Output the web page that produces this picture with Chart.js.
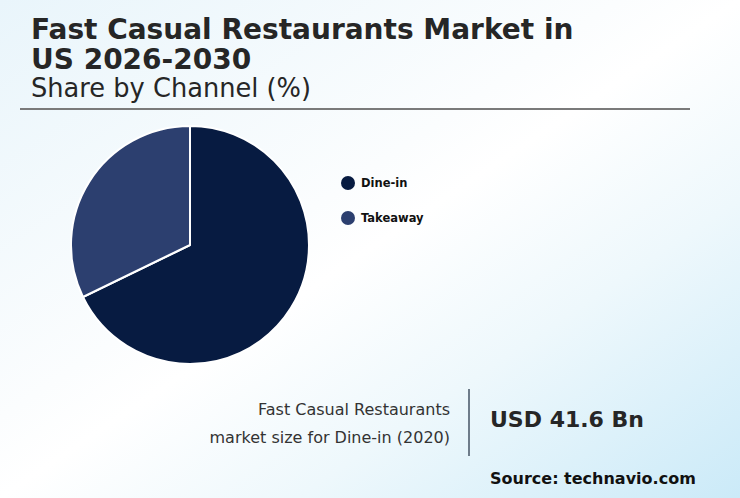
<!DOCTYPE html>
<html><head><meta charset="utf-8">
<script src="https://cdn.jsdelivr.net/npm/chart.js@4"></script>
<style>
html,body{margin:0;padding:0;}
body{width:740px;height:498px;overflow:hidden;position:relative;font-family:"DejaVu Sans",sans-serif;
background:linear-gradient(to bottom right,#e9f5fb 0%,#fbfdfe 42%,#ffffff 50%,#eef8fc 70%,#cbeaf8 100%);}
.abs{position:absolute;white-space:nowrap;}
#title{left:31px;top:15px;font-size:28px;line-height:30px;font-weight:bold;color:#262626;}
#sub{left:31px;top:73px;font-size:25.7px;line-height:30px;color:#262626;}
#rule{left:20px;top:108px;width:670px;height:2px;background:#7a7a7a;}
#pie{left:70px;top:125px;width:240px;height:240px;}
#legend{left:341px;top:174px;}
.li{display:flex;align-items:center;height:18px;margin-bottom:17px;font-size:11.5px;font-weight:bold;color:#111;}
.dot{width:14px;height:14px;border-radius:50%;margin-right:6px;}
#desc{right:290px;top:396px;font-size:16px;line-height:28px;color:#333;text-align:right;}
#vline{left:468px;top:389px;width:2px;height:67px;background:#6e7c8a;}
#val{left:490px;top:406px;font-size:22px;line-height:28px;font-weight:bold;color:#262626;}
#src{left:490px;top:468px;font-size:16px;line-height:22px;font-weight:bold;color:#111;}
</style></head>
<body>
<div id="title" class="abs">Fast Casual Restaurants Market in<br>US 2026-2030</div>
<div id="sub" class="abs">Share by Channel (%)</div>
<div id="rule" class="abs"></div>
<div id="pie" class="abs"><canvas id="c" width="240" height="240"></canvas></div>
<div id="legend" class="abs"></div>
<div id="desc" class="abs">Fast Casual Restaurants<br>market size for Dine-in (2020)</div>
<div id="vline" class="abs"></div>
<div id="val" class="abs">USD 41.6 Bn</div>
<div id="src" class="abs">Source: technavio.com</div>
<script>
const categories = ["Dine-in", "Takeaway"];
const shares = [67.8, 32.2];
const colors = ["#071b41", "#2c3f6f"];

const lg = document.getElementById('legend');
categories.forEach((c,i)=>{
  const d=document.createElement('div');d.className='li';
  d.innerHTML='<span class="dot" style="background:'+colors[i]+'"></span>'+c;
  lg.appendChild(d);
});

new Chart(document.getElementById('c'), {
  type: 'pie',
  data: { labels: categories, datasets: [{ data: shares, backgroundColor: colors, borderColor: '#ffffff', borderWidth: 2 }] },
  options: {
    responsive: false, animation: false,
    layout: { padding: 0 },
    plugins: { legend: { display: false }, tooltip: { enabled: false } }
  }
});
</script>
</body></html>
